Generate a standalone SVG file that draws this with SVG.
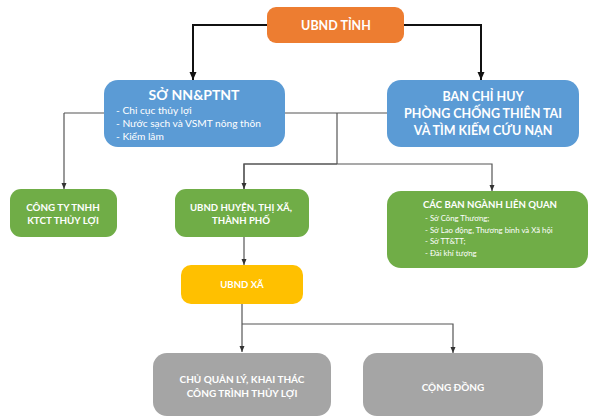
<svg xmlns="http://www.w3.org/2000/svg" width="591" height="418" viewBox="0 0 591 418">
<defs>
<style>
text{font-family:Lato,"Open Sans","Noto Sans",sans-serif;fill:#fff}
.b{font-weight:bold}
.c{text-anchor:middle}
.thick{fill:none;stroke:#111;stroke-width:2}
.thin{fill:none;stroke:#555;stroke-width:1.2}
.orange{fill:#ED7D31}
.blue{fill:#5B9BD5}
.green{fill:#70AD47}
.yellow{fill:#FFC000}
.grey{fill:#A5A5A5}
</style>
<marker id="ak" markerWidth="8" markerHeight="8" refX="4" refY="7" orient="auto-start-reverse" markerUnits="userSpaceOnUse" viewBox="0 0 8 8">
<path d="M1,1 L7,1 L4,7 Z" fill="#111" transform="rotate(-90 4 4)"/>
</marker>
<marker id="ah" markerWidth="10" markerHeight="10" refX="9" refY="5" orient="auto" markerUnits="userSpaceOnUse" viewBox="0 0 10 10">
<path d="M1,1.5 L9,5 L1,8.5 Z" fill="#111"/>
</marker>
<marker id="as" markerWidth="7" markerHeight="7" refX="6.5" refY="3.5" orient="auto" markerUnits="userSpaceOnUse" viewBox="0 0 7 7">
<path d="M0.5,1 L6.5,3.5 L0.5,6 Z" fill="#333"/>
</marker>
</defs>
<g id="connectors">
<polyline class="thick" points="267,25 193,25 193,80" marker-end="url(#ah)"/>
<polyline class="thick" points="404,25 481,25 481,80" marker-end="url(#ah)"/>
<line class="thin" x1="64" y1="113" x2="104" y2="113"/>
<line class="thin" x1="285" y1="113" x2="387" y2="113"/>
<polyline class="thin" points="64,113 64,189" marker-end="url(#as)"/>
<line class="thin" x1="337" y1="113" x2="337" y2="164"/>
<polyline class="thin" points="244,189 244,164 492,164 492,191" marker-end="url(#as)"/>
<polyline class="thin" points="337,164 244,164 244,189" marker-end="url(#as)"/>
<polyline class="thin" points="244,237 244,265" marker-end="url(#as)"/>
<polyline class="thin" points="242,304 242,352" marker-end="url(#as)"/>
<polyline class="thin" points="242,324 453,324 453,353" marker-end="url(#as)"/>
</g>
<g id="ubnd-tinh">
<rect class="orange" x="267" y="7" width="137" height="36" rx="9"/>
<text class="b c" x="336" y="30" font-size="12.5">UBND TỈNH</text>
</g>
<g id="so-nn-ptnt">
<rect class="blue" x="104" y="80" width="181" height="67" rx="14"/>
<text class="b c" x="194" y="100" font-size="14">SỞ NN&amp;PTNT</text>
<text x="116" y="114" font-size="10.2">- Chi cục thủy lợi</text>
<text x="116" y="127" font-size="10.2">- Nước sạch và VSMT nông thôn</text>
<text x="116" y="140" font-size="10.2">- Kiểm lâm</text>
</g>
<g id="ban-chi-huy">
<rect class="blue" x="387" y="80" width="192" height="67" rx="14"/>
<text class="b c" x="483" y="101" font-size="12.5">BAN CHỈ HUY</text>
<text class="b c" x="483" y="118" font-size="12.5">PHÒNG CHỐNG THIÊN TAI</text>
<text class="b c" x="483" y="135" font-size="12.5">VÀ TÌM KIẾM CỨU NẠN</text>
</g>
<g id="cong-ty">
<rect class="green" x="10" y="189" width="107" height="48" rx="11"/>
<text class="b c" x="63" y="211" font-size="9.8">CÔNG TY TNHH</text>
<text class="b c" x="63" y="224" font-size="9.8">KTCT THỦY LỢI</text>
</g>
<g id="ubnd-huyen">
<rect class="green" x="175" y="189" width="134" height="48" rx="11"/>
<text class="b c" x="241" y="211" font-size="9.6">UBND HUYỆN, THỊ XÃ,</text>
<text class="b c" x="241" y="224" font-size="9.6">THÀNH PHỐ</text>
</g>
<g id="cac-ban-nganh">
<rect class="green" x="387" y="191" width="201" height="77" rx="14"/>
<text class="b" x="423" y="208" font-size="9.6">CÁC BAN NGÀNH LIÊN QUAN</text>
<text x="425" y="221" font-size="7.8">- Sở Công Thương;</text>
<text x="425" y="232.5" font-size="7.8">- Sở Lao động, Thương binh và Xã hội</text>
<text x="425" y="244" font-size="7.8">- Sở TT&amp;TT;</text>
<text x="425" y="255.5" font-size="7.8">- Đài khí tượng</text>
</g>
<g id="ubnd-xa">
<rect class="yellow" x="181" y="265" width="122" height="39" rx="10"/>
<text class="b c" x="242" y="288" font-size="9.6">UBND XÃ</text>
</g>
<g id="chu-quan-ly">
<rect class="grey" x="153" y="353" width="178" height="63" rx="14"/>
<text class="b c" x="242" y="383" font-size="10">CHỦ QUẢN LÝ, KHAI THÁC</text>
<text class="b c" x="242" y="397" font-size="10">CÔNG TRÌNH THỦY LỢI</text>
</g>
<g id="cong-dong">
<rect class="grey" x="363" y="353" width="180" height="63" rx="14"/>
<text class="b c" x="453" y="391" font-size="10">CỘNG ĐỒNG</text>
</g>
</svg>
